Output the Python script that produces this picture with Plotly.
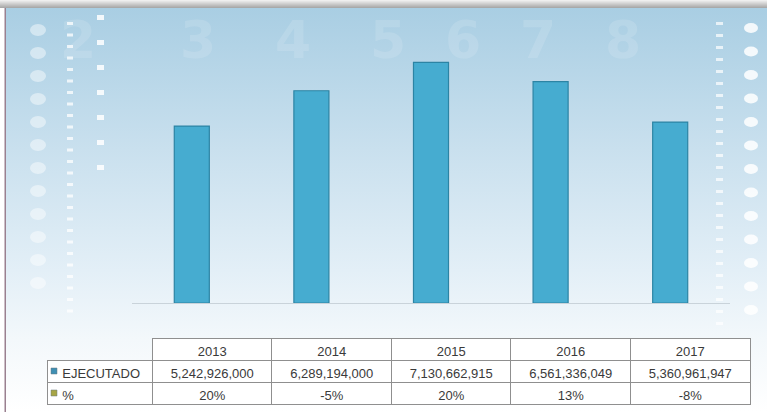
import base64
import plotly.graph_objects as go

years = ["2013", "2014", "2015", "2016", "2017"]
ejecutado = [5242926000, 6289194000, 7130662915, 6561336049, 5360961947]
pct_labels = ["20%", "-5%", "20%", "13%", "-8%"]
series_name = "EJECUTADO"
pct_name = "%"

W, H = 767, 412

# ---------- decorative background (SVG) ----------
ovals = "".join(
    f'<ellipse cx="751" cy="{28 + i * 23.5:.1f}" rx="7" ry="5" fill="#ffffff" opacity="0.85"/>'
    for i in range(13)
)
dashes_r = "".join(
    f'<rect x="716" y="{22 + i * 12}" width="7" height="3" fill="#ffffff" opacity="0.7"/>'
    for i in range(26)
)
dashes_l = "".join(
    f'<rect x="67" y="{22 + i * 11.5:.1f}" width="6" height="3" fill="#ffffff" opacity="0.75"/>'
    for i in range(26)
)
blobs_l = "".join(
    f'<ellipse cx="38" cy="{30 + i * 23}" rx="8" ry="6" fill="#ffffff" opacity="0.45"/>'
    for i in range(12)
)
sq_l = "".join(
    f'<rect x="97" y="{15 + i * 25}" width="7" height="5" fill="#ffffff" opacity="0.85"/>'
    for i in range(7)
)
nums = "".join(
    f'<text x="{x}" y="58" font-family="DejaVu Sans" font-size="52" font-weight="bold" fill="#ffffff" opacity="0.13">{t}</text>'
    for x, t in [(60, "2"), (180, "3"), (275, "4"), (370, "5"), (445, "6"), (520, "7"), (605, "8")]
)
svg = f'''<svg xmlns="http://www.w3.org/2000/svg" width="{W}" height="{H}" viewBox="0 0 {W} {H}">
<defs>
<linearGradient id="bg" x1="0" y1="0" x2="0" y2="1">
<stop offset="0" stop-color="#a9cee3"/>
<stop offset="0.35" stop-color="#c9e0ee"/>
<stop offset="0.65" stop-color="#e3eff7"/>
<stop offset="0.82" stop-color="#f3f8fb"/>
<stop offset="1" stop-color="#ffffff"/>
</linearGradient>
<linearGradient id="top" x1="0" y1="0" x2="0" y2="1">
<stop offset="0" stop-color="#f4f4f4"/>
<stop offset="1" stop-color="#a4a4a4"/>
</linearGradient>
</defs>
<rect x="0" y="0" width="{W}" height="{H}" fill="#ffffff"/>
<rect x="6" y="8" width="{W-6}" height="{H-8}" fill="url(#bg)"/>
<rect x="0" y="0" width="{W}" height="8" fill="url(#top)"/>
<rect x="4.5" y="8" width="1.5" height="{H-8}" fill="#9a8090"/>
{nums}{blobs_l}{dashes_l}{sq_l}{dashes_r}{ovals}
</svg>'''
svg_uri = "data:image/svg+xml;base64," + base64.b64encode(svg.encode()).decode()

fig = go.Figure()

fig.add_trace(go.Bar(
    x=years, y=ejecutado, name=series_name,
    marker=dict(color="#46acd0", line=dict(color="#2c84a4", width=1.2)),
    xaxis="x", yaxis="y", showlegend=False, hoverinfo="skip",
))

# ---------- data table ----------
fmt_vals = [f"{v:,}" for v in ejecutado]
pad = "\u00a0\u00a0"
header_vals = [""] + years
cell_vals = [[pad + series_name, pad + pct_name]] + [[fmt_vals[i], pct_labels[i]] for i in range(len(years))]

grid = "#8f8f8f"
T_TOP, ROW = 338, 22
fig.add_trace(go.Table(
    domain=dict(x=[47 / W, 750 / W], y=[1 - (T_TOP + 3 * ROW + 3) / H, 1 - T_TOP / H]),
    columnwidth=[105] + [119] * len(years),
    header=dict(
        values=header_vals,
        height=ROW,
        align="center",
        fill=dict(color=["rgba(0,0,0,0)"] + ["#ffffff"] * len(years)),
        line=dict(color=["rgba(0,0,0,0)"] + [grid] * len(years), width=1),
        font=dict(family="Liberation Sans, Arial", size=13, color="#3a3a3a"),
    ),
    cells=dict(
        values=cell_vals,
        height=ROW,
        align=["left"] + ["center"] * len(years),
        fill=dict(color="#ffffff"),
        line=dict(color=grid, width=1),
        font=dict(family="Liberation Sans, Arial", size=13, color="#3a3a3a"),
    ),
))

# legend keys inside the table label cells
keys = [("#3f8fb3", T_TOP + ROW), ("#a7a545", T_TOP + 2 * ROW)]
shapes = [
    dict(type="rect", xref="paper", yref="paper",
         x0=51 / W, x1=57 / W,
         y0=1 - (yt + 14) / H, y1=1 - (yt + 8) / H,
         fillcolor=c, line=dict(color="#6b7a80", width=0.5), layer="above")
    for c, yt in keys
]

fig.update_layout(
    width=W, height=H,
    margin=dict(l=0, r=0, t=0, b=0),
    paper_bgcolor="rgba(0,0,0,0)",
    plot_bgcolor="rgba(0,0,0,0)",
    bargap=0.707,
    shapes=shapes,
    images=[dict(source=svg_uri, xref="paper", yref="paper", x=0, y=1,
                 sizex=1, sizey=1, xanchor="left", yanchor="top",
                 sizing="stretch", layer="below")],
    xaxis=dict(domain=[132 / W, 730 / W], showticklabels=False, ticks="",
               showgrid=False, zeroline=False, showline=True,
               linecolor="#c9d3da", linewidth=1, fixedrange=True),
    yaxis=dict(domain=[(H - 303) / H, (H - 33) / H], range=[0, 8e9],
               showticklabels=False, showgrid=False, zeroline=False,
               showline=False, fixedrange=True),
    showlegend=False,
)

fig.write_html(
    "out.html",
    config={"displayModeBar": False},
    post_script="document.body.style.margin='0px';document.body.style.overflow='hidden';",
)
